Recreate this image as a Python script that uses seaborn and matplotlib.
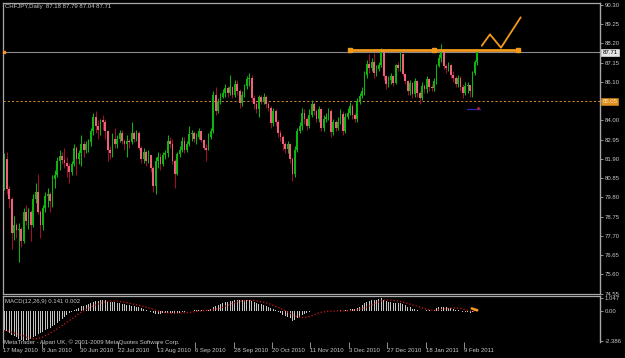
import numpy as np
import pandas as pd
import matplotlib
matplotlib.use("Agg")
import matplotlib.pyplot as plt
import matplotlib.transforms as mtransforms
import seaborn as sns

# ---------------- data ----------------
title_text = "CHFJPY,Daily  87.18 87.79 87.04 87.71"
macd_text = "MACD(12,26,9) 0.141 0.002"
copyright_text = "MetaTrader - Alpari UK, \u00a9 2001-2009 MetaQuotes Software Corp."

first_open = 80.30
close = [81.88, 80.24, 79.70, 77.83, 78.32, 78.00, 78.10, 77.40, 79.00, 78.50,
         79.00, 78.30, 79.70, 80.10, 79.00, 78.30, 79.20, 79.85, 80.00, 79.60,
         80.80, 81.00, 81.77, 82.05, 81.85, 81.70, 81.50, 81.20, 81.60, 82.50,
         81.90, 82.20, 82.70, 82.40, 82.70, 82.80, 83.40, 84.20, 83.70, 83.50,
         84.00, 83.90, 83.40, 82.40, 82.20, 83.00, 82.70, 83.00, 83.30, 82.90,
         82.70, 82.90, 82.80, 83.30, 83.00, 83.30, 82.50, 81.90, 82.30, 81.80,
         82.10, 81.40, 80.40, 81.80, 82.00, 81.60, 82.10, 82.20, 82.90, 82.70,
         81.80, 81.10, 82.15, 82.40, 82.90, 82.40, 82.70, 83.25, 83.30, 83.00,
         83.10, 83.40, 82.95, 82.50, 82.40, 83.10, 83.40, 85.40, 84.50, 85.00,
         85.30, 85.50, 85.75, 85.50, 85.80, 85.40, 86.00, 85.60, 84.95, 85.40,
         85.85, 86.25, 86.30, 85.20, 84.90, 84.60, 85.30, 85.00, 85.30, 84.90,
         84.70, 83.85, 84.50, 83.90, 83.30, 83.10, 82.70, 82.45, 82.70, 81.90,
         81.10, 82.40, 83.40, 83.70, 84.40, 84.10, 83.70, 84.30, 84.90, 84.50,
         84.10, 84.60, 83.60, 84.10, 84.20, 84.50, 83.35, 83.90, 83.60, 83.90,
         84.35, 83.40, 84.20, 84.40, 84.80, 84.30, 84.10, 85.05, 85.35, 85.60,
         86.50, 87.10, 86.85, 87.20, 86.60, 86.80, 87.00, 87.78, 86.42, 85.97,
         86.20, 86.40, 86.05, 87.00, 86.85, 87.62, 86.53, 86.14, 85.60, 86.04,
         85.43, 86.14, 85.50, 85.20, 85.90, 85.70, 86.25, 85.80, 85.75, 86.14,
         86.96, 87.40, 87.78, 86.96, 86.85, 87.00, 86.50, 86.30, 85.98, 86.30,
         85.80, 85.50, 85.85, 85.95, 85.60, 86.60, 87.18, 87.71]
high = [82.20, 82.30, 80.40, 79.80, 78.80, 78.40, 78.40, 78.20, 79.20, 79.40,
        79.20, 79.10, 80.00, 80.57, 81.06, 79.10, 79.40, 80.10, 80.30, 80.10,
        81.00, 81.30, 82.00, 82.40, 82.30, 82.50, 82.00, 81.70, 81.80, 82.70,
        82.60, 82.40, 83.20, 82.90, 82.90, 83.00, 83.60, 84.40, 84.50, 84.00,
        84.10, 84.30, 84.10, 83.50, 82.60, 83.30, 83.60, 83.20, 83.50, 83.50,
        83.00, 83.20, 83.00, 83.90, 83.40, 83.50, 83.40, 82.60, 82.50, 82.40,
        82.40, 82.10, 81.50, 82.00, 82.30, 82.20, 82.30, 82.40, 83.20, 83.10,
        83.00, 81.90, 82.30, 82.60, 83.10, 83.10, 82.90, 83.70, 83.50, 83.40,
        83.30, 83.60, 83.50, 83.00, 82.70, 83.30, 83.60, 85.60, 85.80, 85.20,
        85.50, 85.70, 86.00, 85.90, 86.50, 85.90, 86.20, 86.20, 85.70, 85.60,
        86.00, 86.40, 86.60, 86.50, 85.40, 85.00, 85.40, 85.40, 85.50, 85.40,
        85.00, 84.80, 84.70, 84.60, 84.00, 83.50, 83.20, 82.80, 82.90, 82.70,
        82.00, 82.60, 83.60, 83.90, 84.70, 84.60, 84.20, 84.60, 85.10, 85.00,
        84.60, 84.80, 84.70, 84.30, 84.40, 84.70, 84.60, 84.10, 84.00, 84.20,
        84.60, 84.50, 84.40, 84.70, 85.00, 84.90, 84.40, 85.20, 85.50, 85.80,
        86.70, 87.30, 87.60, 87.40, 87.70, 87.00, 87.20, 87.97, 87.85, 86.50,
        86.40, 86.60, 86.50, 87.10, 87.20, 87.75, 87.70, 86.60, 86.20, 86.20,
        86.10, 86.30, 86.20, 85.60, 86.10, 86.00, 86.40, 86.30, 86.00, 86.30,
        87.10, 87.60, 88.17, 87.90, 87.10, 87.20, 87.10, 86.70, 86.40, 86.50,
        86.40, 86.00, 86.10, 86.10, 85.90, 86.70, 87.30, 87.79]
low = [80.20, 80.00, 79.20, 77.00, 77.50, 77.60, 76.30, 77.10, 77.30, 78.30,
       78.10, 77.40, 78.20, 79.50, 78.90, 77.60, 78.00, 79.00, 79.30, 79.00,
       79.30, 80.30, 80.90, 81.30, 81.60, 81.40, 80.90, 80.60, 81.00, 81.50,
       81.00, 81.60, 81.50, 82.00, 82.20, 82.30, 82.60, 83.20, 83.30, 83.00,
       83.20, 83.50, 83.00, 81.80, 81.90, 82.00, 82.50, 82.50, 82.80, 82.70,
       82.40, 82.00, 82.50, 82.70, 82.80, 82.90, 82.40, 81.70, 81.70, 81.50,
       81.70, 81.20, 80.10, 80.00, 81.40, 81.30, 81.50, 81.90, 82.00, 82.50,
       81.60, 80.30, 81.00, 82.00, 82.30, 82.20, 82.30, 82.60, 82.90, 82.80,
       82.70, 83.00, 82.80, 82.40, 81.80, 82.40, 83.00, 83.30, 84.30, 84.40,
       84.90, 85.20, 85.30, 85.30, 85.40, 85.20, 85.30, 85.40, 84.70, 84.80,
       85.30, 85.70, 85.90, 85.00, 84.60, 84.40, 84.20, 84.90, 84.90, 84.70,
       84.50, 83.60, 83.70, 83.70, 83.10, 82.90, 82.40, 82.20, 82.20, 81.70,
       80.70, 80.90, 82.30, 83.30, 83.50, 83.80, 83.50, 83.60, 84.20, 84.30,
       83.90, 83.90, 83.40, 83.40, 83.90, 84.00, 83.10, 83.20, 83.40, 83.50,
       83.80, 83.20, 83.30, 84.10, 84.30, 84.10, 83.90, 83.90, 84.90, 85.20,
       85.40, 86.30, 86.60, 86.70, 86.30, 86.40, 86.70, 86.90, 86.20, 85.70,
       85.80, 86.00, 85.90, 86.00, 86.70, 86.70, 86.40, 86.00, 85.40, 85.40,
       85.20, 85.30, 85.30, 84.90, 85.10, 85.50, 85.50, 85.60, 85.60, 85.60,
       86.00, 86.90, 87.20, 86.80, 86.60, 86.70, 86.30, 86.10, 85.80, 85.80,
       85.60, 85.20, 85.40, 85.50, 85.30, 85.30, 86.50, 87.04]
macd = [-1.55, -1.62, -1.72, -1.88, -2.00, -2.10, -2.20, -2.30, -2.38, -2.35,
        -2.30, -2.22, -2.10, -1.98, -1.85, -1.78, -1.66, -1.55, -1.44, -1.34,
        -1.22, -1.08, -0.92, -0.76, -0.62, -0.48, -0.34, -0.20, -0.08, 0.06,
        0.16, 0.26, 0.36, 0.42, 0.48, 0.54, 0.62, 0.70, 0.78, 0.82,
        0.85, 0.87, 0.85, 0.80, 0.75, 0.72, 0.68, 0.65, 0.62, 0.58,
        0.55, 0.50, 0.45, 0.42, 0.38, 0.33, 0.28, 0.20, 0.14, 0.08,
        0.02, -0.08, -0.20, -0.22, -0.22, -0.22, -0.20, -0.18, -0.15, -0.14,
        -0.18, -0.22, -0.18, -0.14, -0.08, -0.06, -0.04, 0.00, 0.03, 0.05,
        0.06, 0.08, 0.07, 0.05, 0.04, 0.08, 0.12, 0.30, 0.38, 0.48,
        0.55, 0.62, 0.70, 0.75, 0.80, 0.82, 0.86, 0.87, 0.85, 0.84,
        0.85, 0.87, 0.88, 0.80, 0.70, 0.62, 0.58, 0.52, 0.48, 0.42,
        0.35, 0.22, 0.15, 0.05, -0.08, -0.20, -0.32, -0.42, -0.48, -0.60,
        -0.78, -0.72, -0.60, -0.48, -0.32, -0.25, -0.20, -0.12, -0.02, 0.00,
        -0.02, 0.02, -0.04, -0.02, 0.00, 0.03, -0.04, -0.02, -0.03, 0.00,
        0.05, 0.00, 0.05, 0.08, 0.14, 0.15, 0.14, 0.25, 0.35, 0.45,
        0.60, 0.75, 0.82, 0.88, 0.85, 0.88, 0.92, 1.047, 0.90, 0.80,
        0.75, 0.72, 0.65, 0.65, 0.62, 0.66, 0.55, 0.45, 0.32, 0.28,
        0.18, 0.15, 0.08, 0.02, 0.03, 0.02, 0.06, 0.04, 0.03, 0.10,
        0.20, 0.28, 0.35, 0.30, 0.28, 0.27, 0.20, 0.15, 0.08, 0.06,
        0.00, -0.08, -0.10, -0.12, -0.15, -0.06, 0.05, 0.141]

date_labels = ["17 May 2010", "8 Jun 2010", "30 Jun 2010", "22 Jul 2010",
               "13 Aug 2010", "6 Sep 2010", "28 Sep 2010", "20 Oct 2010",
               "11 Nov 2010", "3 Dec 2010", "27 Dec 2010", "18 Jan 2011",
               "9 Feb 2011"]
date_tick_bars = [0, 16, 32, 48, 64, 80, 96, 112, 128, 144, 160, 176, 192]
price_ticks = [90.30, 89.25, 88.20, 87.15, 86.10, 85.05, 84.00, 82.95, 81.90,
               80.85, 79.80, 78.75, 77.70, 76.65, 75.60, 74.55]
price_tick_labels = ["90.30", "89.25", "88.20", "87.15", "86.10", "85.05", "84.00",
                     "82.95", "81.90", "80.85", "79.80", "78.75", "77.70", "76.65",
                     "75.60", "74.55"]
macd_ticks = [1.047, 0.0, -2.386]
macd_tick_labels = ["1.047", "0.00", "-2.386"]

bid_price = 87.71
hline_price = 85.05
trend_bars = [144.0, 179.0, 214.0]
trend_prices = [87.84, 87.84, 87.84]
zigzag_bars = [198.9, 202.3, 206.9, 215.1]
zigzag_prices = [88.07, 88.69, 87.96, 89.62]
blue_bars = [192.7, 198.1]
blue_prices = [84.63, 84.63]
macd_mark_bars = [194.7, 197.0]
macd_mark_vals = [0.20, 0.06]

# ---------------- style ----------------
sns.set_theme(style="dark", rc={"axes.facecolor": "#000000",
                                "figure.facecolor": "#000000",
                                "axes.grid": False})
plt.rcParams["font.family"] = ["Liberation Sans", "DejaVu Sans"]

BG = "#000000"
SPINE = "#a8a8a8"
TXT = "#c8c8c8"
BULL = "#0fb40f"
BEAR_BODY = "#f0607a"
BEAR_WICK = "#a0102e"
ORANGE = "#f39a1c"
FS = 4.3

df = pd.DataFrame({"close": close, "high": high, "low": low, "macd": macd})
df["bar"] = np.arange(len(df))
df["open"] = df["close"].shift(1).fillna(first_open)
df["high"] = df[["high", "open", "close"]].max(axis=1)
df["low"] = df[["low", "open", "close"]].min(axis=1)
df["signal"] = df["macd"].rolling(9, min_periods=1).mean()
bull = df["close"] >= df["open"]

W, H = 625, 358
fig = plt.figure(figsize=(W / 100, H / 100), dpi=100)
fig.patch.set_facecolor(BG)

ax = fig.add_axes([3 / W, 1 - 294 / H, 597 / W, 291 / H])
ax2 = fig.add_axes([3 / W, 1 - 342 / H, 597 / W, 46 / H], sharex=ax)

XL = (-0.6, -0.6 + 597 / 2.4)
for a in (ax, ax2):
    a.set_facecolor(BG)
    for s in a.spines.values():
        s.set_color(SPINE)
        s.set_linewidth(0.9)
    a.spines["right"].set_linewidth(1.0)
ax2.spines["bottom"].set_visible(False)
ax.set_xlim(*XL)
ax.set_ylim(74.53, 90.40)
ax2.set_ylim(-2.47, 1.19)

# candles
wick_col = np.where(bull, BULL, BEAR_WICK)
ax.vlines(df["bar"], df["low"], df["high"], colors=wick_col, linewidth=0.75, zorder=2)
body_h = (df["close"] - df["open"]).abs().clip(lower=0.03)
body_b = df[["open", "close"]].min(axis=1)
ax.bar(df["bar"], body_h, bottom=body_b, width=0.72,
       color=np.where(bull, BULL, BEAR_BODY), linewidth=0, zorder=3)

# horizontal lines / objects
ax.axhline(bid_price, color="#8c8c8c", linewidth=0.8, zorder=1)
ax.axhline(hline_price, color="#d08a30", linewidth=0.7, linestyle=(0, (2.2, 2.2)), zorder=1)
ax.plot(trend_bars, trend_prices, color=ORANGE, linewidth=2.0, zorder=5,
        solid_capstyle="butt")
ax.plot(trend_bars, trend_prices, linestyle="none", marker="s", markersize=3.2,
        color=ORANGE, zorder=6)
ax.plot(zigzag_bars, zigzag_prices, color=ORANGE, linewidth=1.3, zorder=5)
ax.plot(blue_bars, blue_prices, color="#2a2ab8", linewidth=0.9, zorder=5)
ax.plot([blue_bars[1] - 0.8], [blue_prices[0] + 0.05], marker="s", markersize=0.9,
        color="#c02030", linestyle="none", zorder=6)
ax.plot([XL[0] + 0.5], [bid_price], marker="s", markersize=1.6, color=ORANGE,
        linestyle="none", zorder=6, clip_on=False)

# price scale (the 85.05 level is labelled by the orange line box instead)
shown_labels = ["" if t == hline_price else l for t, l in zip(price_ticks, price_tick_labels)]
ax.yaxis.tick_right()
ax.set_yticks(price_ticks)
ax.set_yticklabels(shown_labels)
ax.tick_params(axis="y", which="both", direction="out", length=2.2, width=0.6,
               color=SPINE, labelcolor=TXT, labelsize=FS, pad=1.2, right=True, left=False)
ax.tick_params(axis="x", which="both", bottom=False, labelbottom=False)

trans = mtransforms.blended_transform_factory(ax.transAxes, ax.transData)
ax.text(1.004, bid_price, "87.71", transform=trans, ha="left", va="center",
        fontsize=FS, color="#000000", zorder=10, clip_on=False,
        bbox=dict(boxstyle="square,pad=0.18", fc="#e4e4e4", ec="#ffffff", lw=0.4))
ax.text(1.004, hline_price, "85.05", transform=trans, ha="left", va="center",
        fontsize=FS, color="#ffe2b0", zorder=10, clip_on=False,
        bbox=dict(boxstyle="square,pad=0.18", fc="#e0901e", ec="#e0901e", lw=0.4))

# MACD panel
ax2.bar(df["bar"], df["macd"], width=0.45, color="#c4c4c4", linewidth=0, zorder=2)
sns.lineplot(data=df, x="bar", y="signal", ax=ax2, color="#d01818",
             linewidth=0.9, linestyle=(0, (1, 1.6)), zorder=3, legend=False)
ax2.plot(macd_mark_bars, macd_mark_vals, color=ORANGE, linewidth=1.8, zorder=4)
ax2.set_xlabel("")
ax2.set_ylabel("")
ax2.yaxis.tick_right()
ax2.set_yticks(macd_ticks)
ax2.set_yticklabels(macd_tick_labels)
ax2.tick_params(axis="y", direction="out", length=2.2, width=0.6, color=SPINE,
                labelcolor=TXT, labelsize=FS, pad=1.2, right=True, left=False)
ax2.set_xticks(np.array(date_tick_bars) - 0.55)
ax2.set_xticklabels(date_labels)
ax2.tick_params(axis="x", direction="out", length=4, width=0.6, color=SPINE,
                labelcolor=TXT, labelsize=FS, pad=0.6, bottom=True)
for lbl in ax2.get_xticklabels():
    lbl.set_horizontalalignment("left")
ax.set_xlim(*XL)

# texts
fig.text(5 / W, 1 - 6.5 / H, title_text, fontsize=FS, color=TXT, va="center", ha="left")
fig.text(5 / W, 1 - 301.5 / H, macd_text, fontsize=FS, color=TXT, va="center", ha="left")
fig.text(4 / W, 1 - 342 / H, copyright_text, fontsize=FS, color=TXT, va="center", ha="left")

fig.savefig("out.png", dpi=100, facecolor=BG)
